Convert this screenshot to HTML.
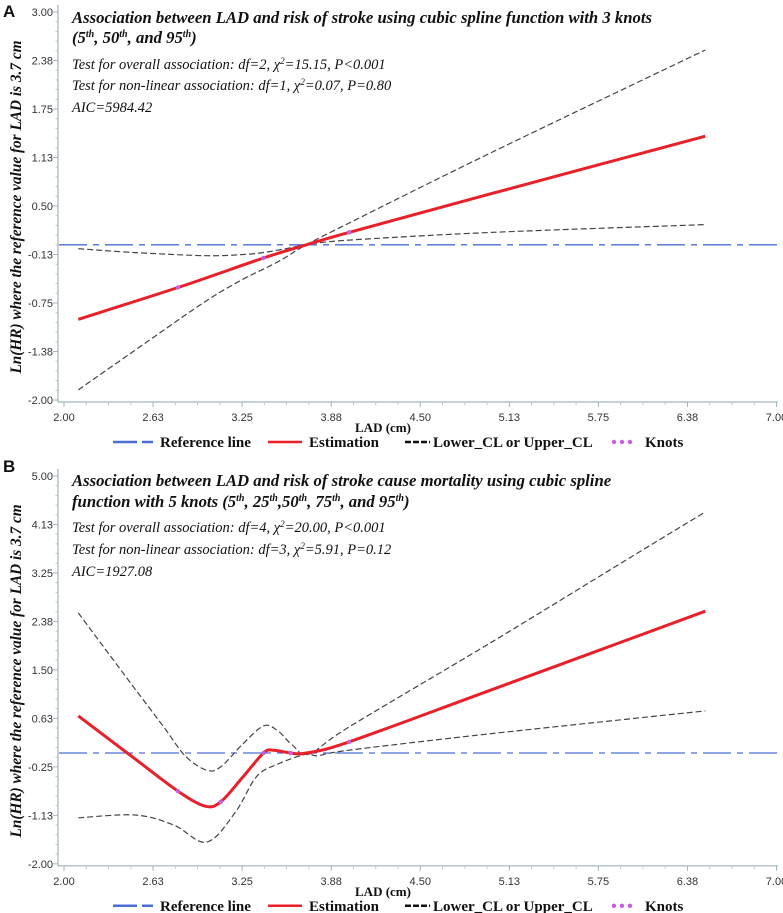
<!DOCTYPE html>
<html><head><meta charset="utf-8">
<style>
html,body{margin:0;padding:0;background:#fff;}
svg{display:block;}
.tick{font-family:"Liberation Sans",sans-serif;font-size:11px;fill:#333;}
.ttl{font-family:"Liberation Serif",serif;font-weight:bold;font-style:italic;font-size:16.7px;fill:#111;}
.stat{font-family:"Liberation Serif",serif;font-style:italic;font-size:14.5px;fill:#111;}
.leg{font-family:"Liberation Serif",serif;font-weight:bold;font-size:15px;fill:#111;}
.xt{font-family:"Liberation Serif",serif;font-weight:bold;font-size:13px;fill:#111;}
.yt{font-family:"Liberation Serif",serif;font-weight:bold;font-style:italic;font-size:15.3px;fill:#111;}
.pl{font-family:"Liberation Sans",sans-serif;font-weight:bold;font-size:17px;fill:#111;}
</style></head>
<body>
<svg id="chart" width="783" height="913" xmlns="http://www.w3.org/2000/svg">
<text class="pl" x="3" y="17">A</text>
<text class="pl" x="3" y="472">B</text>

<g>
<text class="ttl" x="72" y="23">Association between LAD and risk of stroke using cubic spline  function with 3 knots</text>
<text class="ttl" x="72" y="43">(5<tspan font-size="10" dy="-6">th</tspan><tspan dy="6">, 50</tspan><tspan font-size="10" dy="-6">th</tspan><tspan dy="6">, and 95</tspan><tspan font-size="10" dy="-6">th</tspan><tspan dy="6">)</tspan></text>
<text class="stat" x="72" y="69">Test for overall association: df=2, χ<tspan font-size="9" dy="-5">2</tspan><tspan dy="5">=15.15, P&lt;0.001</tspan></text>
<text class="stat" x="72" y="90">Test for non-linear association: df=1, χ<tspan font-size="9" dy="-5">2</tspan><tspan dy="5">=0.07, P=0.80</tspan></text>
<text class="stat" x="72" y="112">AIC=5984.42</text>
</g>
<g>
<text class="ttl" x="72" y="486">Association between LAD and risk of stroke cause mortality using cubic spline</text>
<text class="ttl" x="72" y="507">function with 5 knots (5<tspan font-size="10" dy="-6">th</tspan><tspan dy="6">, 25</tspan><tspan font-size="10" dy="-6">th</tspan><tspan dy="6">,50</tspan><tspan font-size="10" dy="-6">th</tspan><tspan dy="6">, 75</tspan><tspan font-size="10" dy="-6">th</tspan><tspan dy="6">, and 95</tspan><tspan font-size="10" dy="-6">th</tspan><tspan dy="6">)</tspan></text>
<text class="stat" x="72" y="532">Test for overall association: df=4, χ<tspan font-size="9" dy="-5">2</tspan><tspan dy="5">=20.00, P&lt;0.001</tspan></text>
<text class="stat" x="72" y="554">Test for non-linear association: df=3, χ<tspan font-size="9" dy="-5">2</tspan><tspan dy="5">=5.91, P=0.12</tspan></text>
<text class="stat" x="72" y="576">AIC=1927.08</text>
</g>
</svg>
<script>
// ---- shared axis data ----
const xTickLabels = ["2.00","2.63","3.25","3.88","4.50","5.13","5.75","6.38","7.00"];
const xTickValues = [2,2.625,3.25,3.875,4.5,5.125,5.75,6.375,7];
const refValue = 0;
// ---- panel A ----
const yTickLabelsA = ["3.00","2.38","1.75","1.13","0.50","-0.13","-0.75","-1.38","-2.00"];
const yTickValuesA = [3,2.375,1.75,1.125,0.5,-0.125,-0.75,-1.375,-2];
const xEstA = [2.1,2.8,3.4,3.7,4.0,5.0,6.5];
const yEstA = [-0.96,-0.55,-0.17,0,0.16,0.66,1.40];
const xCl1A = [2.1,2.63,3.0,3.25,3.5,3.7,4.0,5.0,6.5];
const yCl1A = [-1.87,-1.19,-0.72,-0.45,-0.22,0,0.28,1.19,2.51];
const xCl2A = [2.1,2.5,3.0,3.3,3.5,3.7,4.0,5.0,6.5];
const yCl2A = [-0.05,-0.10,-0.14,-0.12,-0.07,0,0.06,0.16,0.26];
const xKnotA = [2.8,3.4,4.0];
const yKnotA = [-0.55,-0.17,0.16];
// ---- panel B ----
const yTickLabelsB = ["5.00","4.13","3.25","2.38","1.50","0.63","-0.25","-1.13","-2.00"];
const yTickValuesB = [5,4.125,3.25,2.375,1.5,0.625,-0.25,-1.125,-2];
const xEstB = [2.1,2.5,2.8,2.99,3.1,3.25,3.4,3.47,3.59,3.7,4.0,5.0,6.5];
const yEstB = [0.67,-0.11,-0.69,-0.96,-0.88,-0.45,0.0,0.05,0.0,0,0.2,1.14,2.56];
const xCl1B = [2.1,2.3,2.5,2.7,2.85,3.0,3.1,3.25,3.4,3.5,3.6,3.72,4.0,5.0,6.0,6.5];
const yCl1B = [2.53,1.84,1.15,0.47,-0.05,-0.31,-0.25,0.15,0.49,0.40,0.15,-0.02,0.47,2.0,3.57,4.35];
const xCl2B = [2.1,2.5,2.77,3.0,3.2,3.35,3.5,3.7,3.78,4.0,5.0,6.5];
const yCl2B = [-1.17,-1.12,-1.30,-1.61,-1.08,-0.43,-0.2,-0.02,-0.05,0.05,0.35,0.76];
const xKnotB = [2.8,3.1,3.4,3.59,4.0];
const yKnotB = [-0.69,-0.88,0.0,0.0,0.2];

const NS="http://www.w3.org/2000/svg";
const svg=document.getElementById('chart');
function mk(tag,attrs,parent){const e=document.createElementNS(NS,tag);for(const k in attrs)e.setAttribute(k,attrs[k]);(parent||svg).appendChild(e);return e;}
function smooth(pts){
  let d="M"+pts[0][0].toFixed(1)+","+pts[0][1].toFixed(1);
  for(let i=0;i<pts.length-1;i++){
    const p0=pts[Math.max(0,i-1)],p1=pts[i],p2=pts[i+1],p3=pts[Math.min(pts.length-1,i+2)];
    const c1=[p1[0]+(p2[0]-p0[0])/6,p1[1]+(p2[1]-p0[1])/6];
    const c2=[p2[0]-(p3[0]-p1[0])/6,p2[1]-(p3[1]-p1[1])/6];
    d+="C"+c1[0].toFixed(1)+","+c1[1].toFixed(1)+" "+c2[0].toFixed(1)+","+c2[1].toFixed(1)+" "+p2[0].toFixed(1)+","+p2[1].toFixed(1);
  }
  return d;
}
function panel(o){
  const g=mk('g',{});
  
  
  const L=58,R=778,x0=64,xs=142.5;
  const X=v=>x0+(v-2)*xs;
  const Y=v=>o.yTop+(o.yMax-v)*o.ys;
  const yBot=Y(-2)+2;
  const ya=mk('line',{x1:L,y1:o.yTop-7,x2:L,y2:yBot,stroke:'#9fb4bb','stroke-width':1.2},g);
  
  
  const xa=mk('line',{x1:L,y1:yBot,x2:R,y2:yBot,stroke:'#9fb4bb','stroke-width':1.2},g);
  
  
  o.yv.forEach((v,i)=>{
    mk('line',{x1:L-5,y1:Y(v),x2:L,y2:Y(v),stroke:'#9fb4bb'},g);
    const t=mk('text',{x:L-5,y:Y(v)+4,'text-anchor':'end',class:'tick'},g);
    t.textContent=o.yl[i];
    
    
    if(i<o.yv.length-1){const st=(o.yv[i+1]-v)/5;for(let k=1;k<5;k++){const yy=Y(v+st*k);mk('line',{x1:L-2.5,y1:yy,x2:L,y2:yy,stroke:'#b5c5ca'},g);}}
  });
  xTickValues.forEach((v,i)=>{
    mk('line',{x1:X(v),y1:yBot,x2:X(v),y2:yBot+5,stroke:'#9fb4bb'},g);
    const t=mk('text',{x:X(v),y:yBot+19,'text-anchor':'middle',class:'tick'},g);
    t.textContent=xTickLabels[i];
    
    
    if(i<xTickValues.length-1){const st=(xTickValues[i+1]-v)/4;for(let k=1;k<4;k++){const xx=X(v+st*k);mk('line',{x1:xx,y1:yBot,x2:xx,y2:yBot+3,stroke:'#b5c5ca'},g);}}
  });
  const xt=mk('text',{x:383,y:yBot+30,'text-anchor':'middle',class:'xt'},g);
  xt.textContent='LAD (cm)';
  
  
  const ymid=(o.yTop+yBot)/2;
  const yt=mk('text',{x:21,y:ymid,'text-anchor':'middle',class:'yt',transform:'rotate(-90 21 '+ymid+')'},g);
  yt.textContent='Ln(HR) where the reference value for LAD is 3.7 cm';
  
  
  const rl=mk('line',{x1:L+1,y1:Y(refValue),x2:R,y2:Y(refValue),stroke:'#4a6fd6','stroke-width':1.3,'stroke-dasharray':'28,6,6,6'},g);
  
  
  const c1=mk('path',{d:smooth(o.c1x.map((v,i)=>[X(v),Y(o.c1y[i])])),fill:'none',stroke:'#444','stroke-width':1.2,'stroke-dasharray':'6,3'},g);
  
  
  const c2=mk('path',{d:smooth(o.c2x.map((v,i)=>[X(v),Y(o.c2y[i])])),fill:'none',stroke:'#444','stroke-width':1.2,'stroke-dasharray':'6,3'},g);
  
  
  const es=mk('path',{d:smooth(o.ex.map((v,i)=>[X(v),Y(o.ey[i])])),fill:'none',stroke:'#e8202a','stroke-width':3},g);
  
  
  o.kx.forEach((v,i)=>{
    const c=mk('circle',{cx:X(v),cy:Y(o.ky[i]),r:2.2,fill:'#c55ee0'},g);
    
    
  });
  const ly=yBot+40;
  const lg=mk('g',{},g);
  
  
  mk('line',{x1:113,y1:ly,x2:153,y2:ly,stroke:'#4a6fd6','stroke-width':2.5,'stroke-dasharray':'24,5,10,0'},lg);
  mk('line',{x1:268,y1:ly,x2:302,y2:ly,stroke:'#e8202a','stroke-width':2.5},lg);
  mk('line',{x1:405,y1:ly,x2:430,y2:ly,stroke:'#111','stroke-width':2.5,'stroke-dasharray':'6,2'},lg);
  [614,622,630].forEach(cx=>mk('circle',{cx:cx,cy:ly,r:2.2,fill:'#c55ee0'},lg));
  [["Reference line",160],["Estimation",309],["Lower_CL or Upper_CL",433],["Knots",645]].forEach(a=>{
    const t=mk('text',{x:a[1],y:ly+5,class:'leg'},lg);
    t.textContent=a[0];
    
    
  });
}
panel({name:'panel-a-chart',yTop:12,yMax:3,ys:77.6,yv:yTickValuesA,yl:yTickLabelsA,ex:xEstA,ey:yEstA,c1x:xCl1A,c1y:yCl1A,c2x:xCl2A,c2y:yCl2A,kx:xKnotA,ky:yKnotA});
panel({name:'panel-b-chart',yTop:476,yMax:5,ys:55.4,yv:yTickValuesB,yl:yTickLabelsB,ex:xEstB,ey:yEstB,c1x:xCl1B,c1y:yCl1B,c2x:xCl2B,c2y:yCl2B,kx:xKnotB,ky:yKnotB});
</script>
</body></html>
